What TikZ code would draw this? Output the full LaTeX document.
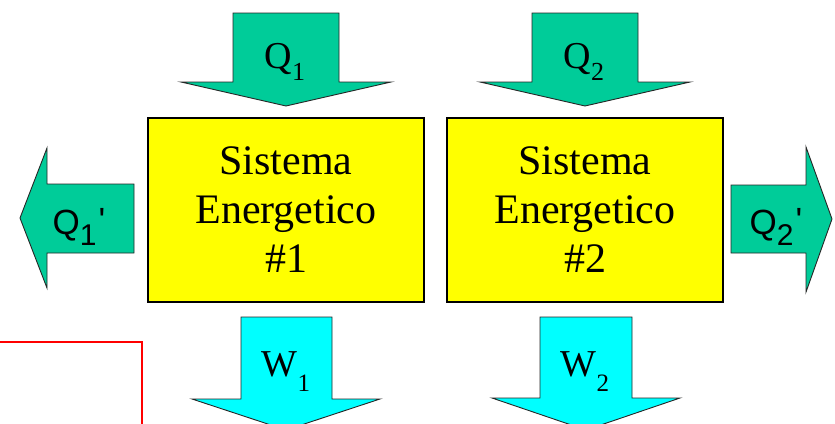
\documentclass[tikz,border=0pt]{standalone}
\usepackage{fontspec}
\setmainfont{Liberation Serif}
\newfontfamily\sansfont{Liberation Sans}
\definecolor{qgreen}{HTML}{00CC99}
\definecolor{wcyan}{HTML}{00FFFF}
\definecolor{boxyellow}{HTML}{FFFF00}
% lowered subscript: #1 = drop, #2 = size, #3 = text
\newcommand\lowsub[3]{\raisebox{-#1}{\fontsize{#2}{#2}\selectfont #3}}
\begin{document}
\begin{tikzpicture}[x=1pt,y=-1pt,
  blockarrow/.style={draw=black!85, line width=0.9pt, line join=miter},
  qarrow/.style={blockarrow, fill=qgreen},
  warrow/.style={blockarrow, fill=wcyan},
  sysbox/.style={draw=black, line width=1.5pt, fill=boxyellow,
    minimum width=276pt, minimum height=184pt, align=center,
    font=\fontsize{42}{49}\selectfont, inner sep=0pt},
  serlabel/.style={font=\fontsize{38}{38}\selectfont, inner sep=0pt, anchor=base},
  sanslabel/.style={font=\sansfont\fontsize{35}{35}\selectfont, inner sep=0pt, anchor=base}]
\useasboundingbox (0,0) rectangle (835,423);
\clip (0,0) rectangle (835,423);

% energy systems
\node[sysbox] (s1) at (286,210) {Sistema\\Energetico\\\#1};
\node[sysbox] (s2) at (585,210) {Sistema\\Energetico\\\#2};

% heat in
\draw[qarrow] (233,13) -- (339,13) -- (339,82) -- (391,82) -- (286,106)
  -- (181,82) -- (233,82) -- cycle;
\node[serlabel] (q1) at (285,68) {Q\lowsub{12pt}{26}{1}};
\draw[qarrow] (532,13) -- (638,13) -- (638,82) -- (690,82) -- (585,106)
  -- (480,82) -- (532,82) -- cycle;
\node[serlabel] (q2) at (584,68) {Q\lowsub{12pt}{26}{2}};

% heat out
\draw[qarrow] (134,184) -- (47,184) -- (47,148) -- (20,218) -- (47,288)
  -- (47,253) -- (134,253) -- cycle;
\node[sanslabel] (q1p) at (79,234) {Q\lowsub{11pt}{30}{1}\kern2pt\raisebox{2pt}{'}};
\draw[qarrow] (731,185) -- (806,185) -- (806,147) -- (832,219) -- (806,292)
  -- (806,253) -- (731,253) -- cycle;
\node[sanslabel] (q2p) at (776,234) {Q\lowsub{11pt}{30}{2}\kern2pt\raisebox{2pt}{'}};

% work out
\draw[warrow] (241,317) -- (332,317) -- (332,399) -- (380,399) -- (286,430)
  -- (192,399) -- (241,399) -- cycle;
\node[serlabel] (w1) at (286,376) {W\lowsub{15pt}{25}{1}};
\draw[warrow] (540,317) -- (632,317) -- (632,398) -- (680,398) -- (586,430)
  -- (492,398) -- (540,398) -- cycle;
\node[serlabel] (w2) at (585,376) {W\lowsub{15pt}{25}{2}};

% red frame corner
\draw[red, line width=1.3pt] (0,342) -- (142,342) -- (142,430);
\end{tikzpicture}
\end{document}
